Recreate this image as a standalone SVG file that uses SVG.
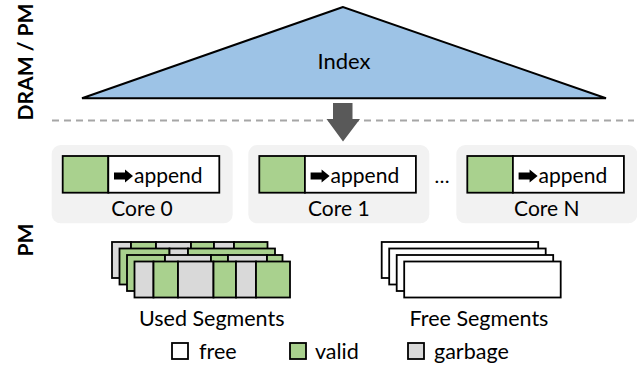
<svg xmlns="http://www.w3.org/2000/svg" width="637" height="379" viewBox="0 0 637 379">
  <style>
    .t{font-family:Lato,"Liberation Sans",sans-serif;fill:#000}
    .lbl{font-size:21px;text-anchor:middle}
    .seglbl{font-size:21.5px;text-anchor:middle}
    .leg{font-size:21.5px}
    .side{font-size:21px;font-weight:bold;text-anchor:middle}
    .panel{fill:#f2f2f2}
    .cell{stroke:#000;stroke-width:1.8}
    .v{fill:#a9d18e}
    .g{fill:#d9d9d9}
    .f{fill:#fff}
  </style>
  <defs>
    <!-- small block arrow in front of "append" -->
    <polygon id="blk" points="0,-3.5 11,-3.5 11,-6.5 19,0 11,6.5 11,3.5 0,3.5" fill="#000"/>
    <!-- one core's log head: valid part + free tail -->
    <g id="core">
      <rect class="panel" x="51.7" y="145" width="181" height="78.3" rx="9"/>
      <rect class="cell v" x="62.7" y="156" width="45.6" height="36.7"/>
      <rect class="cell f" x="108.3" y="156" width="111" height="36.7"/>
      <use href="#blk" x="114" y="176"/>
      <text class="t" x="134" y="183.3" font-size="21">append</text>
    </g>
  </defs>

  <!-- side labels -->
  <text class="t side" transform="translate(33,62) rotate(-90)">DRAM / PM</text>
  <text class="t side" transform="translate(33,240) rotate(-90)">PM</text>

  <!-- index tree -->
  <g id="index">
    <polygon points="343,7 82,98.3 606,98.3" fill="#9dc3e6" stroke="#000" stroke-width="2" stroke-linejoin="miter"/>
    <text class="t" x="344" y="68.5" font-size="22" text-anchor="middle">Index</text>
  </g>

  <!-- connectors: layer divider and index-to-core arrow -->
  <g id="connectors">
    <line x1="52" y1="120.5" x2="634" y2="120.5" stroke="#a6a6a6" stroke-width="2" stroke-dasharray="7 5"/>
    <polygon points="333,103 352.5,103 352.5,119 360,119 343,141.5 326.5,119 333,119" fill="#595959"/>
  </g>

  <!-- per-core log heads -->
  <g id="core0">
    <use href="#core"/>
    <text class="t lbl" x="142" y="215.5">Core 0</text>
  </g>
  <g id="core1">
    <use href="#core" transform="translate(196.6,0)"/>
    <text class="t lbl" x="338.8" y="215.5">Core 1</text>
  </g>
  <text class="t" x="442" y="183" font-size="20" text-anchor="middle">…</text>
  <g id="coreN">
    <use href="#core" transform="translate(404.6,0)"/>
    <text class="t lbl" x="546.8" y="215.5">Core N</text>
  </g>

  <!-- used segments: four stacked logs, back to front -->
  <g id="used-segments">
    <g>
      <rect class="cell g" x="112" y="242" width="19" height="36"/>
      <rect class="cell v" x="131" y="242" width="25" height="36"/>
      <rect class="cell g" x="156" y="242" width="35" height="36"/>
      <rect class="cell v" x="191" y="242" width="23" height="36"/>
      <rect class="cell g" x="214" y="242" width="20" height="36"/>
      <rect class="cell v" x="234" y="242" width="33.5" height="36"/>
    </g>
    <g>
      <rect class="cell v" x="119.5" y="248.5" width="50" height="36"/>
      <rect class="cell g" x="169.5" y="248.5" width="18.5" height="36"/>
      <rect class="cell v" x="188" y="248.5" width="87" height="36"/>
    </g>
    <g>
      <rect class="cell v" x="127" y="255" width="38" height="36"/>
      <rect class="cell g" x="165" y="255" width="46" height="36"/>
      <rect class="cell v" x="211" y="255" width="17" height="36"/>
      <rect class="cell g" x="228" y="255" width="39" height="36"/>
      <rect class="cell v" x="267" y="255" width="15.5" height="36"/>
    </g>
    <g>
      <rect class="cell g" x="134.5" y="261.5" width="19" height="36"/>
      <rect class="cell v" x="153.5" y="261.5" width="24.5" height="36"/>
      <rect class="cell g" x="178" y="261.5" width="35.5" height="36"/>
      <rect class="cell v" x="213.5" y="261.5" width="22.5" height="36"/>
      <rect class="cell g" x="236" y="261.5" width="20" height="36"/>
      <rect class="cell v" x="256" y="261.5" width="34" height="36"/>
    </g>
    <text class="t seglbl" x="211.7" y="326">Used Segments</text>
  </g>

  <!-- free segments -->
  <g id="free-segments">
    <rect class="cell f" x="381.7" y="242" width="156.5" height="36"/>
    <rect class="cell f" x="389.2" y="248.5" width="156.5" height="36"/>
    <rect class="cell f" x="396.7" y="255" width="156.5" height="36"/>
    <rect class="cell f" x="404.2" y="261.5" width="156.5" height="36"/>
    <text class="t seglbl" x="479" y="326">Free Segments</text>
  </g>

  <!-- legend -->
  <g id="legend">
    <rect class="cell f" x="172" y="343" width="16" height="16"/>
    <text class="t leg" x="199" y="358.5">free</text>
    <rect class="cell v" x="290" y="343" width="16" height="16"/>
    <text class="t leg" x="315" y="358.5">valid</text>
    <rect class="cell g" x="408" y="343" width="16" height="16"/>
    <text class="t leg" x="434" y="358.5">garbage</text>
  </g>
</svg>
